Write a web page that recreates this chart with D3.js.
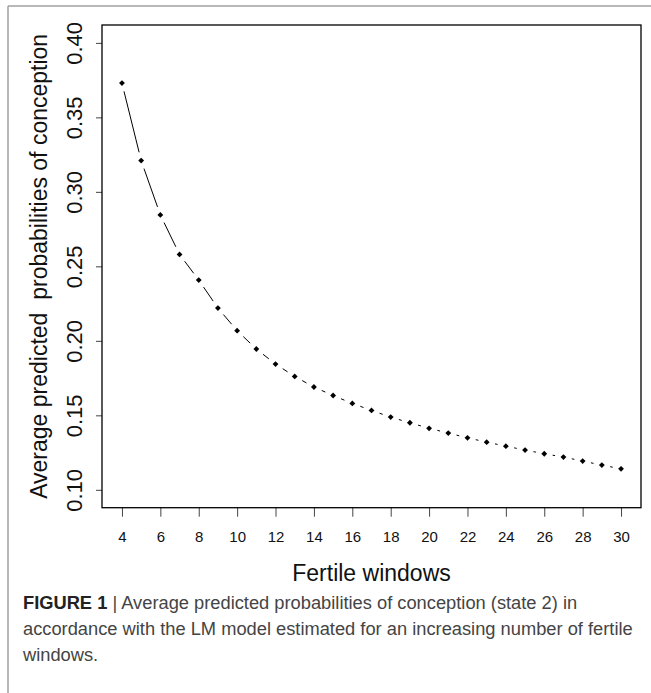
<!DOCTYPE html>
<html>
<head>
<meta charset="utf-8">
<script src="https://d3js.org/d3.v7.min.js"></script>
<style>
	body { margin: 0; background: #fff; }
	svg { display: block; }
</style>
</head>
<body>
<script>

// fertile windows and average predicted probabilities of conception (state 2)
var windows = [4, 5, 6, 7, 8, 9, 10, 11, 12, 13, 14, 15, 16, 17, 18, 19, 20, 21, 22, 23, 24, 25, 26, 27, 28, 29, 30];
var probs = [0.373, 0.321, 0.2845, 0.258, 0.2408, 0.222, 0.2068, 0.1945, 0.1844, 0.1761, 0.169, 0.1633, 0.158, 0.1533,
	0.1488, 0.145, 0.1413, 0.1381, 0.1349, 0.132, 0.1293, 0.1267, 0.1242, 0.122, 0.1193, 0.1166, 0.1141];
var xTicks = [4, 6, 8, 10, 12, 14, 16, 18, 20, 22, 24, 26, 28, 30];
var yTicks = [0.10, 0.15, 0.20, 0.25, 0.30, 0.35, 0.40];
var captionLines = [
	["FIGURE 1", " | Average predicted probabilities of conception (state 2) in"],
	["", "accordance with the LM model estimated for an increasing number of fertile"],
	["", "windows."]
];

drawChart();

function drawChart() {
	var width = 651,
		height = 693,
		pLeft = 102, pRight = 641, pTop = 25, pBottom = 507.7,
		font = "'Liberation Sans', Arial, Helvetica, sans-serif";

	var svg = d3.select("body").append("svg")
		.attr("width", width)
		.attr("height", height);

	// outer frame (top and left rules)
	svg.append("line").attr("x1", 8).attr("x2", width).attr("y1", 6).attr("y2", 6)
		.attr("stroke", "#a0a0a0").attr("stroke-width", 1.5);
	svg.append("line").attr("x1", 8).attr("x2", 8).attr("y1", 6).attr("y2", height)
		.attr("stroke", "#a0a0a0").attr("stroke-width", 1.5);

	// R style ranges: 4% padding
	var x = d3.scaleLinear().domain([2.96, 31.04]).range([pLeft, pRight]);
	var y = d3.scaleLinear().domain([0.088, 0.412]).range([pBottom, pTop]);

	var yAxis = svg.append("g")
		.attr("transform", "translate(" + pLeft + ",0)")
		.call(d3.axisLeft(y).tickValues(yTicks).tickFormat(d3.format(".2f")).tickSize(6));
	yAxis.select(".domain").remove();
	yAxis.selectAll("line").attr("stroke", "#444");
	yAxis.selectAll("text")
		.attr("x", null).attr("dy", null)
		.attr("transform", "translate(-20,0) rotate(-90)")
		.attr("text-anchor", "middle")
		.attr("font-family", font).attr("font-size", 22).attr("fill", "#111");

	var xAxis = svg.append("g")
		.attr("transform", "translate(0," + pBottom + ")")
		.call(d3.axisBottom(x).tickValues(xTicks).tickSize(9));
	xAxis.select(".domain").remove();
	xAxis.selectAll("line").attr("stroke", "#444");
	xAxis.selectAll("text")
		.attr("y", 34).attr("dy", null)
		.attr("font-family", font).attr("font-size", 15).attr("fill", "#111");

	svg.append("rect")
		.attr("x", pLeft).attr("y", pTop)
		.attr("width", pRight - pLeft).attr("height", pBottom - pTop)
		.attr("fill", "none").attr("stroke", "#000").attr("stroke-width", 1.3);

	// type = "b": line segments broken around each point
	var gap = 8.5;
	var pts = windows.map(function(w, i) { return [x(w), y(probs[i])]; });
	for (var i = 0; i < pts.length - 1; i++) {
		var p = pts[i], q = pts[i + 1];
		var dx = q[0] - p[0], dy = q[1] - p[1], len = Math.sqrt(dx * dx + dy * dy);
		if (len <= 2 * gap) continue;
		var ux = dx / len, uy = dy / len;
		svg.append("line")
			.attr("x1", p[0] + ux * gap).attr("y1", p[1] + uy * gap)
			.attr("x2", q[0] - ux * gap).attr("y2", q[1] - uy * gap)
			.attr("stroke", "#000").attr("stroke-width", 1);
	}

	svg.selectAll("path.pt")
		.data(windows)
		.enter().append("path")
		.attr("class", "pt")
		.attr("d", d3.symbol().type(d3.symbolSquare).size(17))
		.attr("transform", function(d, i) { return "translate(" + x(d) + "," + y(probs[i]) + ") rotate(45)"; })
		.attr("fill", "#000");

	svg.append("text")
		.attr("transform", "translate(47," + ((pTop + pBottom) / 2) + ") rotate(-90)")
		.attr("text-anchor", "middle")
		.attr("font-family", font).attr("font-size", 23).attr("fill", "#111")
		.style("white-space", "pre")
		.text("Average predicted  probabilities of conception");

	svg.append("text")
		.attr("x", (pLeft + pRight) / 2).attr("y", 581)
		.attr("text-anchor", "middle")
		.attr("font-family", font).attr("font-size", 23).attr("fill", "#111")
		.text("Fertile windows");

	var cap = svg.append("g").attr("font-family", font).attr("font-size", 18.3);
	captionLines.forEach(function(line, i) {
		var t = cap.append("text").attr("x", 23).attr("y", 609 + i * 26);
		if (line[0]) t.append("tspan").attr("font-weight", "bold").attr("fill", "#222").text(line[0]);
		t.append("tspan").attr("fill", "#444").text(line[1]);
	});
}

</script>
</body>
</html>
